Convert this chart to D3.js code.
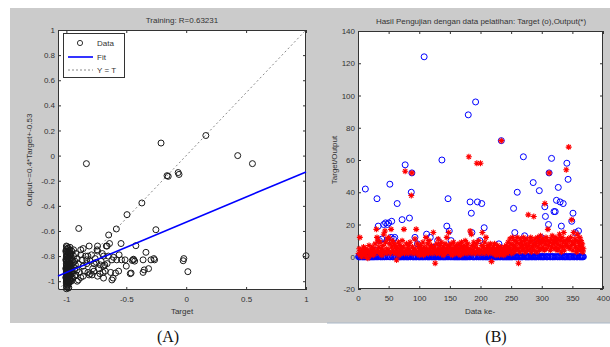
<!DOCTYPE html>
<html><head><meta charset="utf-8">
<script src="https://cdn.jsdelivr.net/npm/d3@7"></script>
<style>body{margin:0;background:#fff}svg{display:block}text{font-family:"Liberation Sans",Arial,sans-serif}</style>
</head><body><svg id="c" width="610" height="347"></svg>
<script>
// ---------- Panel A: regression ----------
const regTarget = [-0.21,0.164,0.43,-0.833,0.553,-0.16,-0.15,-0.067,-0.06,-0.37,-0.494,-0.897,-0.583,-0.647,-0.253,1.0,-0.025,-0.02,0.014,-0.336,-0.42,-0.544,-0.44,-0.45,-0.43,-0.44,-0.294,-0.264,-0.314,-0.36,-0.35,-0.467,-0.46,-0.564,-0.61,-0.51,-0.54,-0.606,-0.667,-0.64,-0.744,-0.74,-0.74,-0.717,-0.694,-0.69,-0.68,-0.786,-0.81,-0.80,-0.81,-0.83,-0.82,-0.88,-0.88,-0.94,-0.925,-0.91,-0.88,-0.66,-0.86,-0.84,-0.79,-0.76,-0.69,-0.65,-0.62,-0.58,-0.36,-0.27,-0.59,-0.675,-0.69,-0.62,-0.78,-0.82,-0.85,-0.93,-0.92,-0.9,-0.86,-0.73,-0.75,-0.7,-0.77,-0.72,-0.74,
 -1,-0.99,-1,-0.98,-1,-0.99,-1,-0.97,-1,-0.99,-1,-0.98,-1,-0.99,-1,-0.97,-1,-0.99,-1,-0.98,-1,-0.99,-1,-0.97,-1,-0.99,-1,-0.98,-1,-0.99,-1,-0.96,-1,-0.99,-1,-0.98,-1,-0.99,-1,-0.97,-1,-0.99,-1,-0.98,-1,-1,-0.99,-1,-1,-0.96,-0.95,-0.96,-0.95,-0.96,-0.97,-0.98,-0.97,-0.94,-0.93,-0.95,-0.97,-0.98,-0.96];
const regOutput = [0.10,0.16,0.0,-0.064,-0.064,-0.16,-0.165,-0.135,-0.15,-0.377,-0.47,-0.58,-0.584,-0.632,-0.59,-0.797,-0.837,-0.82,-0.924,-0.77,-0.717,-0.70,-0.83,-0.835,-0.84,-0.825,-0.83,-0.83,-0.9,-0.93,-0.91,-0.94,-0.935,-0.92,-0.975,-0.83,-0.83,-0.81,-0.72,-0.70,-0.75,-0.76,-0.72,-0.87,-0.93,-0.975,-0.87,-0.95,-0.95,-0.94,-0.72,-0.83,-0.80,-0.75,-0.79,-0.75,-0.87,-0.91,-0.97,-0.72,-0.74,-0.80,-0.79,-0.82,-0.80,-0.80,-0.83,-0.83,-0.83,-0.82,-0.935,-0.92,-0.88,-0.99,-0.9,-0.93,-0.92,-0.84,-0.95,-0.99,-0.96,-0.9,-0.85,-0.78,-0.86,-0.94,-0.96,
 -0.72,-0.74,-0.76,-0.77,-0.78,-0.79,-0.80,-0.80,-0.81,-0.82,-0.83,-0.83,-0.84,-0.85,-0.86,-0.86,-0.87,-0.88,-0.88,-0.89,-0.89,-0.90,-0.90,-0.91,-0.91,-0.92,-0.92,-0.93,-0.93,-0.94,-0.94,-0.94,-0.95,-0.96,-0.96,-0.97,-0.97,-0.98,-0.98,-0.99,-0.99,-1.0,-1.0,-1.01,-1.01,-1.02,-1.03,-1.04,-1.06,-0.78,-0.83,-0.88,-0.92,-0.97,-0.75,-0.85,-0.95,-0.8,-0.9,-0.97,-0.73,-1.05,-1.0];
const clusterTarget = [-0.995,-0.985,-1,-0.975,-0.995,-0.985,-0.97,-0.995,-0.98,-0.99,-0.975,-0.995,-0.985,-0.97,-0.995,-0.98,-0.99,-0.975,-0.995,-0.985,-0.97,-0.995,-0.98,-0.99,-0.975,-0.995,-0.985,-0.97,-0.995,-0.98,-0.99,-0.995,-0.985,-1.005,-1.005,-1.005,-1.005,-0.96,-0.96,-0.955,-0.955,-0.95,-0.965,-0.94,-0.92,-0.91,-0.9,-0.89,-0.87,-0.86,-0.93,-0.91,-0.83,-0.8,-0.77,-0.71,-0.66,-0.63,-0.56,-0.5];
const clusterOutput = [-0.725,-0.735,-0.745,-0.755,-0.765,-0.775,-0.785,-0.795,-0.805,-0.815,-0.825,-0.835,-0.845,-0.855,-0.865,-0.875,-0.885,-0.895,-0.905,-0.915,-0.925,-0.935,-0.945,-0.955,-0.965,-0.975,-0.985,-0.995,-1.005,-1.015,-1.025,-1.045,-1.055,-0.83,-0.9,-0.97,-0.76,-0.82,-0.9,-0.86,-0.76,-0.94,-1.0,-0.85,-0.78,-0.82,-0.86,-0.93,-0.83,-0.88,-0.96,-1.0,-0.86,-0.84,-0.92,-0.84,-0.86,-0.93,-0.79,-0.88];
const fitSlope = 0.4, fitIntercept = -0.53;
const regXTicks = [-1,-0.5,0,0.5,1];
const regYTicks = [-1,-0.8,-0.6,-0.4,-0.2,0,0.2,0.4,0.6,0.8,1];
const regDomain = [-1.07, 1];
const regTitle = "Training: R=0.63231";
const regYLabel = "Output~=0.4*Target+-0.53";
const regXLabel = "Target";
const legendLabels = ["Data","Fit","Y = T"];

// ---------- Panel B: test on training data ----------
const target = [
0,0,0,0,2,0,0,0,0,0,0,42,0,0,3,0,0,0,0,0,
0,0,0,0,0,0,0,4,0,0,36,0,19,0,10,0,0,0,11,0,
0,20,0,0,21,0,10,20,0,21,0,45,0,12,22,0,0,11,0,12,
0,0,0,33,0,0,5,0,0,0,0,23,0,0,0,0,57,0,0,0,
0,0,0,24,0,0,40,52,0,0,0,0,12,0,0,0,8,0,0,0,
0,0,3,0,0,0,0,124,0,0,0,14,0,0,0,0,0,12,0,0,
0,0,0,0,0,6,0,0,0,10,0,0,0,0,0,0,60,0,0,0,
0,0,0,0,19,0,36,0,16,0,0,10,0,0,4,0,0,0,0,0,
0,0,0,0,0,0,0,5,0,0,0,0,0,0,0,0,0,0,0,88,
0,0,34,0,27,15,0,0,0,0,0,96,0,0,34,0,0,0,10,0,
0,33,0,0,0,18,0,0,0,0,0,0,0,0,0,0,0,0,0,0,
0,0,0,0,0,0,0,0,0,8,0,0,0,72,0,0,0,0,0,0,
0,0,0,0,0,0,0,0,0,0,0,0,0,30,0,15,0,0,0,40,
0,0,0,0,0,0,0,0,0,62,0,13,0,0,0,0,0,0,0,0,
5,0,0,0,0,46,0,0,0,0,0,0,10,0,0,41,0,0,12,0,
0,0,0,0,31,25,0,0,0,0,20,52,0,0,0,61,0,0,0,28,
0,28,0,35,0,0,43,0,0,34,0,19,0,0,33,0,0,0,0,0,
58,0,48,0,0,0,0,0,22,0,27,0,0,0,15,0,0,0,0,16,
0,0,0,0,0,0,0,0];
const output = [
2,5,12,1,3,0,4,2,6,1,3,5,2,0,4,-1,3,7,2,1,
4,2,6,3,1,5,2,8,3,17,12,4,10,6,2,9,3,5,1,4,
7,14,3,16,9,2,5,11,4,12,3,8,2,17,6,10,4,3,8,7,
2,5,-2,6,3,9,1,4,7,2,5,10,3,6,17,2,53,4,8,3,
5,2,7,4,9,3,38,52,6,2,5,3,11,4,17,2,8,3,6,1,
4,7,2,5,3,9,1,6,4,2,12,5,3,8,2,10,4,6,3,7,
2,5,15,3,6,-4,4,2,8,3,11,5,2,7,4,9,3,5,1,6,
3,8,2,5,12,4,7,15,3,6,2,8,4,1,5,9,3,6,2,4,
7,2,5,3,8,4,1,6,9,3,5,2,7,4,10,3,6,2,8,5,
62,3,16,5,14,2,7,4,9,3,6,2,8,58,5,3,10,4,2,58,
4,7,15,3,6,2,9,4,12,5,3,7,2,6,4,8,3,-3,5,2,
6,3,8,4,1,5,2,7,3,5,1,4,6,72,3,2,5,1,6,3,
4,7,2,5,9,3,6,11,4,8,2,12,5,7,3,10,6,4,9,12,
5,-4,8,3,11,6,9,4,7,12,5,10,3,8,6,11,4,26,7,9,
5,12,3,10,6,8,25,4,11,7,9,3,12,6,10,4,8,13,5,9,
11,6,10,4,33,8,12,5,10,17,7,52,9,4,11,6,13,8,10,5,
9,12,6,10,4,8,11,5,14,7,10,3,12,6,9,15,4,10,7,54,
8,11,6,68,10,5,12,7,23,9,4,15,8,11,6,10,3,14,5,9,
7,12,4,10,6,8,3,5];
const idxTicks = [0,50,100,150,200,250,300,350,400];
const valTicks = [-20,0,20,40,60,80,100,120,140];
const testTitle = "Hasil Pengujian dengan data pelatihan: Target (o),Output(*)";
const testYLabel = "Target/Output";
const testXLabel = "Data ke-";
const panelLabels = ["(A)","(B)"];

const svg = d3.select("#c");
const TXT = "#333";
const FS = 8;

svg.append("rect").attr("x",10).attr("y",8).attr("width",600).attr("height",315).attr("fill","#cbcbcb");
svg.append("line").attr("x1",327).attr("x2",610).attr("y1",323).attr("y2",323).attr("stroke","#aab8c8").attr("stroke-width",1);

function frame(g, x, y, xt, yt, fmtX, fmtY){
  const [x0,x1] = x.range(), [y0,y1] = y.range();
  g.append("rect").attr("x",x0).attr("y",y1).attr("width",x1-x0).attr("height",y0-y1).attr("fill","#fff");
  const styleAxis = sel => { sel.select(".domain").remove(); sel.selectAll("line").attr("stroke","#333");
    sel.selectAll("text").attr("fill",TXT).style("font-size",FS+"px").style("font-family","Liberation Sans, Arial, sans-serif"); };
  g.append("g").attr("transform",`translate(0,${y0})`).call(d3.axisBottom(x).tickValues(xt).tickSize(-3).tickPadding(6).tickFormat(fmtX)).call(styleAxis);
  g.append("g").attr("transform",`translate(0,${y1})`).call(d3.axisTop(x).tickValues(xt).tickSize(-3).tickFormat("")).call(styleAxis);
  g.append("g").attr("transform",`translate(${x0},0)`).call(d3.axisLeft(y).tickValues(yt).tickSize(-3).tickPadding(3).tickFormat(fmtY)).call(styleAxis);
  g.append("g").attr("transform",`translate(${x1},0)`).call(d3.axisRight(y).tickValues(yt).tickSize(-3).tickFormat("")).call(styleAxis);
  g.append("rect").attr("x",x0+0.5).attr("y",y1+0.5).attr("width",x1-x0-1).attr("height",y0-y1-1).attr("fill","none").attr("stroke","#333").attr("stroke-width",1);
}
const fmt = d => (d<0?"-":"") + String(Math.abs(d));

// ---------- Panel A ----------
const xA = d3.scaleLinear().domain(regDomain).range([58,306]);
const yA = d3.scaleLinear().domain(regDomain).range([290,30]);
const gA = svg.append("g");
frame(gA, xA, yA, regXTicks, regYTicks, fmt, fmt);
gA.append("line").attr("x1",xA(regDomain[0])).attr("y1",yA(regDomain[0])).attr("x2",xA(regDomain[1])).attr("y2",yA(regDomain[1]))
  .attr("stroke","#8a8a8a").attr("stroke-width",1).attr("stroke-dasharray","2,2.5");
const ptsA = regTarget.map((t,i)=>[t,regOutput[i]]).concat(clusterTarget.map((t,i)=>[t,clusterOutput[i]]));
gA.selectAll("circle.pt").data(ptsA).join("circle").attr("class","pt")
  .attr("cx",d=>xA(d[0])).attr("cy",d=>yA(d[1])).attr("r",3).attr("fill","none").attr("stroke","#1a1a1a").attr("stroke-width",1);
gA.append("line").attr("x1",xA(regDomain[0])).attr("y1",yA(fitSlope*regDomain[0]+fitIntercept))
  .attr("x2",xA(regDomain[1])).attr("y2",yA(fitSlope*regDomain[1]+fitIntercept)).attr("stroke","#0000ff").attr("stroke-width",1.6);
const lg = gA.append("g");
lg.append("rect").attr("x",63.5).attr("y",33.5).attr("width",61).attr("height",44).attr("fill","#fff").attr("stroke","#333");
lg.append("circle").attr("cx",80).attr("cy",43).attr("r",2.6).attr("fill","none").attr("stroke","#333");
lg.append("line").attr("x1",68).attr("x2",93).attr("y1",57).attr("y2",57).attr("stroke","#0000ff").attr("stroke-width",1.6);
lg.append("line").attr("x1",68).attr("x2",93).attr("y1",70).attr("y2",70).attr("stroke","#8a8a8a").attr("stroke-dasharray","2,2");
legendLabels.forEach((l,i)=>lg.append("text").attr("x",97).attr("y",46+i*13.5).attr("fill",TXT).style("font-size",FS+"px").text(l));
svg.append("text").attr("x",182).attr("y",23).attr("text-anchor","middle").attr("fill",TXT).style("font-size",FS+"px").text(regTitle);
svg.append("text").attr("x",182).attr("y",314).attr("text-anchor","middle").attr("fill",TXT).style("font-size",FS+"px").text(regXLabel);
svg.append("text").attr("transform","translate(32,160) rotate(-90)").attr("text-anchor","middle").attr("fill",TXT).style("font-size",FS+"px").text(regYLabel);

// ---------- Panel B ----------
const xB = d3.scaleLinear().domain([idxTicks[0], idxTicks[idxTicks.length-1]]).range([358,603]);
const yB = d3.scaleLinear().domain([valTicks[0], valTicks[valTicks.length-1]]).range([289,31]);
const gB = svg.append("g");
frame(gB, xB, yB, idxTicks, valTicks, d=>d, d=>d);
gB.selectAll("circle.t").data(target).join("circle").attr("class","t")
  .attr("cx",(d,i)=>xB(i+1)).attr("cy",d=>yB(d)).attr("r",3).attr("fill","none").attr("stroke","#0000ff").attr("stroke-width",1);
const star = "M-3,0H3M0,-3V3M-2.1,-2.1L2.1,2.1M-2.1,2.1L2.1,-2.1";
gB.selectAll("path.o").data(output).join("path").attr("class","o")
  .attr("transform",(d,i)=>`translate(${xB(i+1)},${yB(d)})`).attr("d",star).attr("stroke","#ff0000").attr("stroke-width",1.1).attr("fill","none");
svg.append("text").attr("x",481).attr("y",24).attr("text-anchor","middle").attr("fill",TXT).style("font-size",FS+"px").text(testTitle);
svg.append("text").attr("x",480).attr("y",314).attr("text-anchor","middle").attr("fill",TXT).style("font-size",FS+"px").text(testXLabel);
svg.append("text").attr("transform","translate(337,160) rotate(-90)").attr("text-anchor","middle").attr("fill",TXT).style("font-size",FS+"px").text(testYLabel);

[[168,panelLabels[0]],[496,panelLabels[1]]].forEach(([x,t])=>svg.append("text").attr("x",x).attr("y",342).attr("text-anchor","middle")
  .attr("fill","#111").style("font-family","Liberation Serif, Times New Roman, serif").style("font-size","16px").text(t));
</script></body></html>
